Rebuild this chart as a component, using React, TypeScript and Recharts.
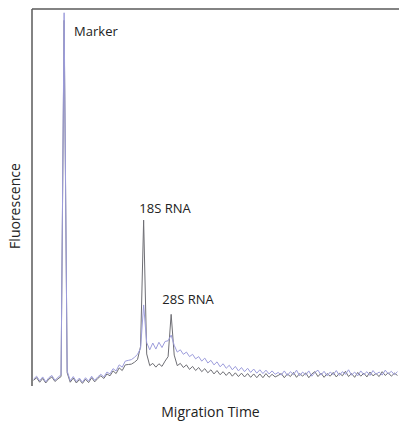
import React from 'react';
import { LineChart, Line, XAxis, YAxis, ReferenceLine, ReferenceDot } from 'recharts';

// migration-time index, one sample per step
const purple: number[] = [
    1.8, 2.6, 1.4, 2.4, 1.1, 2.2, 2.8, 1.5, 2.3, 3.0,
    99, 4.0, 1.4, 2.5, 1.2, 2.1, 1.0, 2.2, 1.3, 2.6,
    1.5, 2.4, 3.1, 2.4, 3.7, 3.2, 4.6, 4.0, 5.6, 5.0,
    6.6, 6.8, 7.0, 7.6, 8.4, 10.0, 21.5, 11.5, 9.6, 11.4,
    9.8, 11.6, 10.2, 11.8, 12.0, 13.5, 10.8, 9.0, 9.6, 8.4,
    9.0, 7.8, 8.4, 7.2, 7.8, 6.6, 7.4, 6.1, 6.8, 5.6,
    6.4, 5.1, 5.9, 4.7, 5.5, 4.3, 5.2, 4.0, 4.9, 3.8,
    4.7, 3.6, 4.5, 3.4, 4.3, 3.3, 4.2, 3.2, 4.0, 3.1,
    3.6, 2.9, 4.0, 2.8, 3.8, 3.0, 4.2, 2.7, 3.7, 2.9,
    4.0, 2.6, 3.6, 4.2, 2.9, 3.9, 2.7, 3.7, 3.0, 4.1,
    2.8, 3.8, 3.1, 4.3, 2.9, 3.7, 2.7, 4.0, 3.0, 3.8,
    2.8, 4.1, 3.1, 3.7, 2.9, 4.2, 3.2, 3.9, 3.0, 3.8,
];

const gray: number[] = [
    1.5, 2.2, 1.0, 2.0, 0.8, 1.8, 2.4, 1.2, 1.9, 2.5,
    97, 3.5, 1.0, 2.1, 0.8, 1.7, 0.7, 1.8, 0.9, 2.2,
    1.1, 2.0, 2.7, 2.0, 3.2, 2.7, 4.0, 3.3, 4.8, 4.1,
    5.6, 5.7, 5.8, 6.3, 7.0, 10.5, 44, 8.5, 5.4, 6.0,
    5.0, 5.9, 5.2, 6.6, 7.8, 19, 8.2, 5.4, 6.0, 4.9,
    5.6, 4.4, 5.2, 4.1, 4.9, 3.8, 4.6, 3.5, 4.3, 3.2,
    4.1, 3.0, 3.8, 2.8, 3.7, 2.6, 3.5, 2.5, 3.4, 2.4,
    3.3, 2.3, 3.2, 2.2, 3.2, 2.2, 3.3, 2.3, 3.1, 2.4,
    2.8, 3.3, 2.2, 3.2, 2.5, 3.6, 2.3, 3.3, 2.6, 3.5,
    2.2, 3.2, 3.8, 2.5, 3.4, 2.3, 3.3, 2.6, 3.6, 2.4,
    3.4, 2.7, 3.9, 2.5, 3.3, 2.3, 3.6, 2.6, 3.4, 2.4,
    3.7, 2.7, 3.3, 2.5, 3.8, 2.8, 3.5, 2.6, 3.4, 2.8,
];

const peakLabels = [
    { name: 'Marker', x: 20.4, y: 94 },
    { name: '18S RNA', x: 43, y: 47 },
    { name: '28S RNA', x: 50.5, y: 23 },
];

const data = purple.map((p, i) => ({ t: i, purple: p, gray: gray[i] }));

const FONT = '"Open Sans", "Noto Sans", sans-serif';
const AXIS = '#5a5a5a';

const App: React.FC = () => {
    return (
        <div style={{ position: 'absolute', left: 0, top: 0, width: 399, height: 421, background: '#fff', fontFamily: FONT }}>
            <LineChart width={399} height={421} data={data} margin={{ top: 9, right: 0, left: 32, bottom: 35 }}>
                <XAxis dataKey="t" type="number" domain={[-0.5, 119.5]} height={0} tick={false} tickLine={false}
                    axisLine={{ stroke: AXIS, strokeWidth: 1.5 }} />
                <YAxis domain={[0, 100]} width={0} tick={false} tickLine={false} axisLine={false} />
                <ReferenceLine y={100} stroke={AXIS} strokeWidth={1.5} />
                <ReferenceLine x={-0.5} stroke={AXIS} strokeWidth={1.5} />
                <Line type="linear" dataKey="gray" stroke="#6e6e74" strokeWidth={1} dot={false} isAnimationActive={false} />
                <Line type="linear" dataKey="purple" stroke="#9d9ddc" strokeWidth={1} dot={false} isAnimationActive={false} />
                {peakLabels.map(l => (
                    <ReferenceDot key={l.name} x={l.x} y={l.y} r={0} stroke="none"
                        label={{ value: l.name, position: 'center', fill: '#222', fontSize: 13, fontFamily: FONT }} />
                ))}
            </LineChart>
            <div style={{ position: 'absolute', left: 0, top: 402, width: 421, textAlign: 'center', fontSize: 14, color: '#222' }}>
                Migration Time
            </div>
            <div style={{ position: 'absolute', left: 14, top: 206, transform: 'translate(-50%, -50%) rotate(-90deg)', fontSize: 14, color: '#222', whiteSpace: 'nowrap' }}>
                Fluorescence
            </div>
        </div>
    );
};

export default App;
